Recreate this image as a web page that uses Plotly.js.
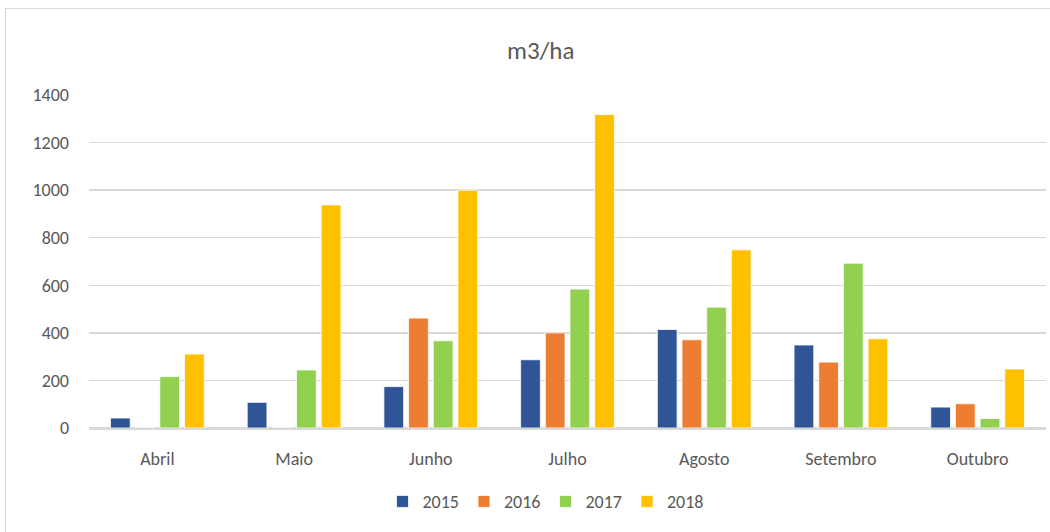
<!DOCTYPE html>
<html>
<head>
<meta charset="utf-8">
<script src="https://cdn.plot.ly/plotly-3.0.1.min.js"></script>
<style>
  html, body { margin: 0; padding: 0; background: #ffffff; }
  #frame { position: absolute; left: 5px; top: 8px; width: 1100px; height: 600px; border: 1px solid #d9d9d9; box-sizing: border-box; }
  #chart { position: absolute; left: 0; top: 0; width: 1050px; height: 532px; }
</style>
</head>
<body>
<div id="frame"></div>
<div id="chart"></div>
<script>
const categories = ["Abril", "Maio", "Junho", "Julho", "Agosto", "Setembro", "Outubro"];
const years = ["2015", "2016", "2017", "2018"];
const v2015 = [42, 108, 174, 287, 414, 349, 88];
const v2016 = [0, 0, 462, 400, 371, 277, 102];
const v2017 = [216, 244, 367, 584, 508, 693, 40];
const v2018 = [311, 938, 1000, 1318, 749, 375, 248];
const colors = ["#2F5597", "#ED7D31", "#92D050", "#FFC000"];
const series = [v2015, v2016, v2017, v2018];

const font = "Calibri, Carlito, 'Liberation Sans', Arial, sans-serif";

const traces = series.map((vals, i) => ({
  type: "bar",
  name: years[i],
  x: categories,
  y: vals,
  marker: { color: colors[i], line: { color: "#ffffff", width: 0.8 } },
  hoverinfo: "x+y+name"
}));

const layout = {
  width: 1050,
  height: 532,
  paper_bgcolor: "rgba(0,0,0,0)",
  plot_bgcolor: "rgba(0,0,0,0)",
  margin: { l: 89, r: 4, t: 95, b: 104 },
  barmode: "group",
  bargap: 0.278,
  bargroupgap: 0.2,
  showlegend: true,
  title: {
    text: "m3/ha",
    x: 0.515, xref: "container", xanchor: "center",
    y: 1 - 50 / 532, yref: "container", yanchor: "middle",
    font: { family: font, size: 25, color: "#595959" }
  },
  xaxis: {
    type: "category",
    showline: true, linecolor: "#d9d9d9", linewidth: 1.5,
    showgrid: false, ticks: "",
    ticklabelstandoff: 14,
    tickfont: { family: font, size: 18, color: "#595959" }
  },
  yaxis: {
    range: [0, 1400],
    dtick: 200,
    showgrid: true, gridcolor: "#d9d9d9", gridwidth: 1.5,
    zeroline: true, zerolinecolor: "#d9d9d9", zerolinewidth: 1.5,
    showline: false, ticks: "",
    ticklabelstandoff: 19,
    tickfont: { family: font, size: 18, color: "#595959" }
  },
  legend: {
    orientation: "h",
    x: 0.477, xanchor: "center",
    y: (428.3 - 502) / 333, yanchor: "middle",
    font: { family: font, size: 18, color: "#595959" },
    itemwidth: 30,
    traceorder: "normal"
  }
};

Plotly.newPlot("chart", traces, layout, { displayModeBar: false, staticPlot: true });
</script>
</body>
</html>
